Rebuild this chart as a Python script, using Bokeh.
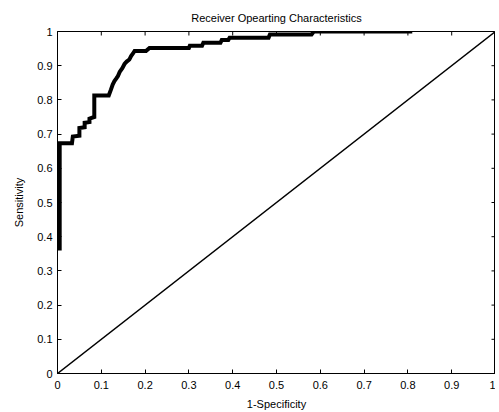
import math
from bokeh.plotting import figure
from bokeh.models import LinearAxis, FixedTicker, Range1d
from bokeh.embed import file_html
from bokeh.resources import INLINE

# ROC curve data (1-Specificity, Sensitivity)
fpr = [0.005, 0.005, 0.033, 0.035, 0.05, 0.05, 0.062, 0.062, 0.073, 0.073, 0.084,
       0.084, 0.117, 0.122, 0.126, 0.13, 0.134, 0.138, 0.142, 0.148, 0.153, 0.158,
       0.164, 0.168, 0.172, 0.176, 0.202, 0.21, 0.30, 0.302, 0.33, 0.333, 0.372,
       0.375, 0.39, 0.393, 0.482, 0.485, 0.58, 0.585, 0.81]
tpr = [0.36, 0.673, 0.673, 0.693, 0.695, 0.718, 0.72, 0.733, 0.735, 0.745, 0.75,
       0.813, 0.813, 0.83, 0.845, 0.855, 0.862, 0.87, 0.882, 0.893, 0.905, 0.912,
       0.918, 0.928, 0.935, 0.943, 0.943, 0.952, 0.952, 0.958, 0.958, 0.967, 0.967,
       0.975, 0.975, 0.982, 0.982, 0.991, 0.991, 1.0, 1.0]
# chance line
diag_x = [0, 1]
diag_y = [0, 1]

ticks = [0, 0.1, 0.2, 0.3, 0.4, 0.5, 0.6, 0.7, 0.8, 0.9, 1]
tick_labels = ["0", "0.1", "0.2", "0.3", "0.4", "0.5", "0.6", "0.7", "0.8", "0.9", "1"]

FONT = "Liberation Sans"

p = figure(frame_width=438, frame_height=342, output_backend="svg", toolbar_location=None,
           x_range=Range1d(0, 1), y_range=Range1d(0, 1),
           x_axis_location=None, y_axis_location=None,
           min_border_left=57, min_border_right=0, min_border_top=31, min_border_bottom=0,
           title="Receiver Opearting Characteristics")
p.title.align = "center"
p.title.text_font = FONT
p.title.text_font_size = "11px"
p.title.text_font_style = "normal"
p.title.text_color = "black"
p.title.standoff = 16
p.title.offset = 0

p.grid.visible = False
p.outline_line_color = "black"
p.outline_line_width = 1
p.background_fill_color = "white"
p.border_fill_color = "white"

labels = dict(zip(ticks, tick_labels))

def make_axis():
    ax = LinearAxis(ticker=FixedTicker(ticks=ticks))
    ax.major_tick_in = 4
    ax.major_tick_out = 0
    ax.minor_tick_in = 0
    ax.minor_tick_out = 0
    ax.axis_line_color = "black"
    ax.major_tick_line_color = "black"
    ax.major_label_text_font = FONT
    ax.major_label_text_color = "black"
    ax.axis_label_text_font = FONT
    ax.axis_label_text_color = "black"
    ax.axis_label_text_font_style = "normal"
    ax.major_label_overrides = labels
    ax.major_label_text_font_size = "11px"
    ax.axis_label_text_font_size = "11px"
    return ax

xb = make_axis()
xb.axis_label = "1-Specificity"
xb.major_label_standoff = 7
xb.axis_label_standoff = 6
p.add_layout(xb, "below")

yl = make_axis()
yl.axis_label = "Sensitivity"
yl.major_label_standoff = 5
yl.axis_label_standoff = 9
p.add_layout(yl, "left")

# inward tick marks on the top and right edges of the box
p.ray(x=ticks, y=[1] * len(ticks), length=4, length_units="screen",
      angle=-math.pi / 2, line_color="black", line_width=1)
p.ray(x=[1] * len(ticks), y=ticks, length=4, length_units="screen",
      angle=math.pi, line_color="black", line_width=1)

p.line(diag_x, diag_y, line_color="black", line_width=1.5)
p.line(fpr, tpr, line_color="black", line_width=4, line_join="miter")

open("out.html", "w").write(file_html(p, INLINE))
